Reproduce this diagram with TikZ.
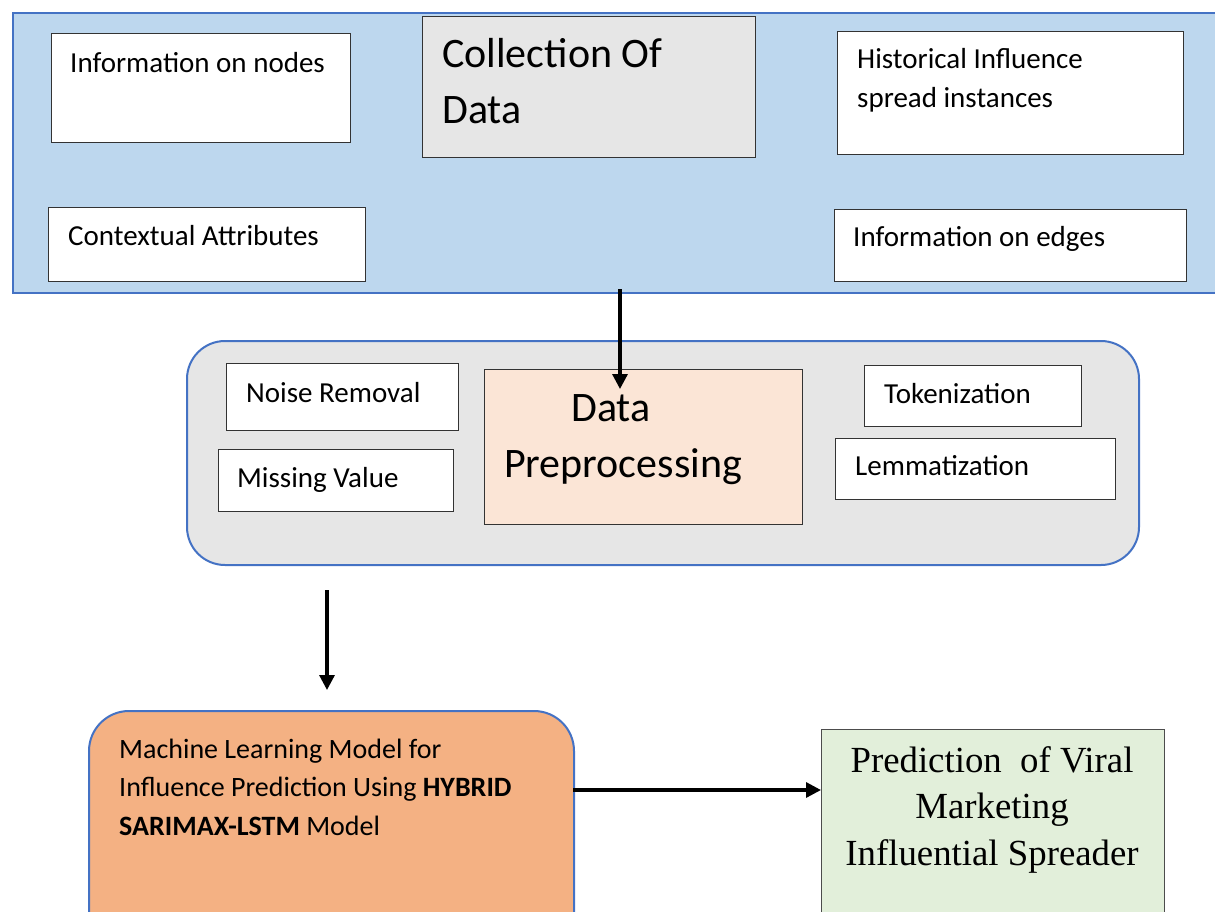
\documentclass[tikz,border=0pt]{standalone}
\usepackage{fontspec}
\setmainfont{Carlito}
\newfontfamily\predfont{Liberation Serif}
\usetikzlibrary{arrows.meta}
\definecolor{frameblue}{HTML}{4472C4}
\definecolor{panelblue}{HTML}{BDD7EE}
\definecolor{panelgray}{HTML}{E6E6E6}
\definecolor{prepfill}{HTML}{FBE5D6}
\definecolor{mlfill}{HTML}{F4B183}
\definecolor{predfill}{HTML}{E2EFDA}
\begin{document}
\begin{tikzpicture}[x=1pt,y=-1pt,
  panel/.style={draw=frameblue,line width=2pt,anchor=north west,inner sep=0pt},
  box/.style={draw=black!80,line width=1.3pt,fill=white,anchor=north west,inner sep=0pt},
  txt/.style={anchor=base west,inner sep=0pt,align=left,font=\fontsize{29}{38.5}\selectfont},
  big/.style={anchor=base west,inner sep=0pt,align=left,font=\fontsize{42}{56}\selectfont},
  arr/.style={line width=3.2pt,-{Triangle[length=15pt,width=15pt]}}]
\useasboundingbox (0,0) rectangle (1215,911);
\clip (0,0) rectangle (1215,911);
% collection of data (multi-line texts sit on their last baseline)
\node[panel,fill=panelblue,minimum width=1240pt,minimum height=280pt] (collect) at (12,12) {};
\node[box,minimum width=299pt,minimum height=109pt] (infonodes) at (51,33) {};
\node[txt] (infonodes-t) at (70,72) {Information on nodes};
\node[box,fill=panelgray,minimum width=333pt,minimum height=141pt] (datacol) at (422,16) {};
\node[big] (datacol-t) at (442,123) {Collection Of\\Data};
\node[box,minimum width=346pt,minimum height=123pt] (history) at (837,31) {};
\node[txt] (history-t) at (857,107) {Historical Influence\\spread instances};
\node[box,minimum width=317pt,minimum height=74pt] (context) at (48,207) {};
\node[txt] (context-t) at (68,245) {Contextual Attributes};
\node[box,minimum width=352pt,minimum height=72pt] (infoedges) at (834,209) {};
\node[txt] (infoedges-t) at (853,246) {Information on edges};
% preprocessing
\node[panel,fill=panelgray,rounded corners=38pt,minimum width=952pt,minimum height=224pt] (prepare) at (186,340) {};
\node[box,minimum width=232pt,minimum height=67pt] (noise) at (226,363) {};
\node[txt] (noise-t) at (246,402) {Noise Removal};
\node[box,minimum width=235pt,minimum height=62pt] (missing) at (218,449) {};
\node[txt] (missing-t) at (237,487) {Missing Value};
\node[box,fill=prepfill,minimum width=318pt,minimum height=155pt] (prepdata) at (484,369) {};
\node[big,anchor=base,align=center] (prepdata-t) at (623,477) {Data\hspace*{24pt}\\Preprocessing};
\node[box,minimum width=217pt,minimum height=61pt] (token) at (864,365) {};
\node[txt] (token-t) at (884,403) {Tokenization};
\node[box,minimum width=280pt,minimum height=61pt] (lemma) at (835,438) {};
\node[txt] (lemma-t) at (855,475) {Lemmatization};
% model and prediction
\node[panel,fill=mlfill,rounded corners=40pt,minimum width=485pt,minimum height=260pt] (mlmodel) at (88,710) {};
\node[txt,font=\fontsize{28}{38.5}\selectfont] (mlmodel-t) at (119,835) {Machine Learning Model for\\Influence Prediction Using \textbf{HYBRID}\\\textbf{SARIMAX-LSTM} Model};
\node[box,draw=black!70,fill=predfill,minimum width=343pt,minimum height=240pt] (predict) at (821,729) {};
\node[anchor=base,inner sep=0pt,align=center,font=\predfont\fontsize{36.8}{46.5}\selectfont] (predict-t) at (992,865) {Prediction\ \ of Viral\\Marketing\\Influential Spreader};
% arrows
\coordinate (a1) at (620,289);
\coordinate (a2) at (327,590);
\coordinate (a3) at (573,790);
\draw[arr] (a1) -- ++(0,100);
\draw[arr] (a2) -- ++(0,100);
\draw[arr] (a3) -- (a3 -| predict.west);
\end{tikzpicture}
\end{document}
